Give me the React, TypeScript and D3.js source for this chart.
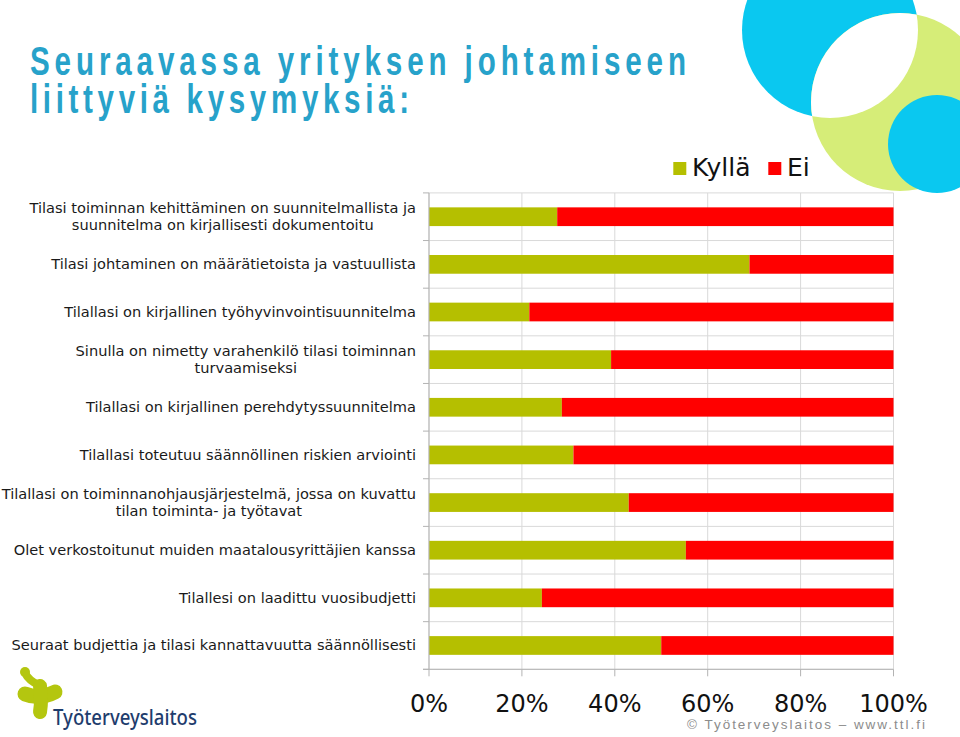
import React from "react";
import * as d3 from "d3";

const categories: string[][] = [
  ["Tilasi toiminnan kehittäminen on suunnitelmallista ja", "suunnitelma on kirjallisesti dokumentoitu"],
  ["Tilasi johtaminen on määrätietoista ja vastuullista"],
  ["Tilallasi on kirjallinen työhyvinvointisuunnitelma"],
  ["Sinulla on nimetty varahenkilö tilasi toiminnan", "turvaamiseksi"],
  ["Tilallasi on kirjallinen perehdytyssuunnitelma"],
  ["Tilallasi toteutuu säännöllinen riskien arviointi"],
  ["Tilallasi on toiminnanohjausjärjestelmä, jossa on kuvattu", "tilan toiminta- ja työtavat"],
  ["Olet verkostoitunut muiden maatalousyrittäjien kanssa"],
  ["Tilallesi on laadittu vuosibudjetti"],
  ["Seuraat budjettia ja tilasi kannattavuutta säännöllisesti"],
];
const kylla = [27.6, 69.0, 21.6, 39.2, 28.6, 31.1, 43.0, 55.3, 24.3, 50.0];
const ei = [72.4, 31.0, 78.4, 60.8, 71.4, 68.9, 57.0, 44.7, 75.7, 50.0];
const seriesNames = ["Kyllä", "Ei"];
const seriesColors = ["#b5bf00", "#ff0000"];
const xTicks = [0, 20, 40, 60, 80, 100];
const titleLines = ["Seuraavassa yrityksen johtamiseen", "liittyviä kysymyksiä:"];

const W = 960;
const H = 737;
const plot = { left: 429, right: 893.5, top: 192.9, bottom: 669.3 };
const labelFontSize = 14.6;
const labelFont = `${labelFontSize}px 'DejaVu Sans'`;

let ctx: CanvasRenderingContext2D | null = null;
function measure(t: string, font: string) {
  if (!ctx) ctx = document.createElement("canvas").getContext("2d");
  if (!ctx) return t.length * 8;
  ctx.font = font;
  return ctx.measureText(t).width;
}

export default function App() {
  const rows = categories.map((c, i) => ({ key: String(i), Kyllä: kylla[i], Ei: ei[i] }));
  const x = d3.scaleLinear().domain([0, 100]).range([plot.left, plot.right]);
  const y = d3
    .scaleBand<string>()
    .domain(rows.map((r) => r.key))
    .range([plot.top, plot.bottom])
    .paddingInner(0.607)
    .paddingOuter(0.3035);
  const stack = d3.stack<any>().keys(seriesNames)(rows);
  const step = y.step();
  const boundaries = d3.range(categories.length + 1).map((i) => plot.top + i * step);

  return (
    <svg width={W} height={H} style={{ position: "absolute", left: 0, top: 0, background: "#fff" }}>
      {/* decorative circles */}
      <defs>
        <clipPath id="clipBlue">
          <circle cx={830} cy={30} r={88} />
        </clipPath>
      </defs>
      <circle cx={830} cy={30} r={88} fill="#0ac8f0" />
      <circle cx={900} cy={102} r={89} fill="#d6ed78" />
      <circle cx={900} cy={102} r={89} fill="#ffffff" clipPath="url(#clipBlue)" />
      <circle cx={937} cy={144} r={49} fill="#0ac8f0" />

      {/* title */}
      {titleLines.map((t, i) => (
        <text
          key={i}
          transform={`translate(30,${75 + i * 38}) scale(0.74,1)`}
          fontFamily="'Liberation Sans', Arial, sans-serif"
          fontWeight="bold"
          fontSize={40}
          fill="#27a2ca"
          textLength={(i === 0 ? 656 : 379) / 0.74}
          lengthAdjust="spacing"
        >
          {t}
        </text>
      ))}

      {/* legend */}
      <g fontFamily="'DejaVu Sans', Verdana, sans-serif" fontSize={25} fill="#111">
        <rect x={673.3} y={162} width={13} height={13} fill={seriesColors[0]} />
        <text x={692} y={176}>{seriesNames[0]}</text>
        <rect x={768.3} y={162} width={13} height={13} fill={seriesColors[1]} />
        <text x={787} y={176}>{seriesNames[1]}</text>
      </g>

      {/* gridlines */}
      {xTicks.map((t) => (
        <line key={"vg" + t} x1={x(t)} x2={x(t)} y1={plot.top} y2={plot.bottom} stroke="#d9d9d9" strokeWidth={1} />
      ))}
      {boundaries.map((b, i) => (
        <line key={"hg" + i} x1={plot.left} x2={plot.right} y1={b} y2={b} stroke="#d9d9d9" strokeWidth={1} />
      ))}

      {/* bars */}
      {stack.map((s, si) =>
        s.map((d, i) => (
          <rect
            key={si + "-" + i}
            x={x(d[0])}
            width={x(d[1]) - x(d[0])}
            y={y(rows[i].key)}
            height={y.bandwidth()}
            fill={seriesColors[si]}
          />
        ))
      )}

      {/* axes */}
      <line x1={plot.left} x2={plot.left} y1={plot.top} y2={plot.bottom} stroke="#b3b3b3" />
      {boundaries.map((b, i) => (
        <line key={"lt" + i} x1={plot.left - 6} x2={plot.left} y1={b} y2={b} stroke="#b3b3b3" />
      ))}
      <line x1={plot.left - 6} x2={plot.right} y1={plot.bottom} y2={plot.bottom} stroke="#b3b3b3" />
      {xTicks.map((t) => (
        <line key={"bt" + t} x1={x(t)} x2={x(t)} y1={plot.bottom} y2={plot.bottom + 7} stroke="#b3b3b3" />
      ))}
      <g fontFamily="'DejaVu Sans', Verdana, sans-serif" fontSize={24} fill="#111" textAnchor="middle">
        {xTicks.map((t) => (
          <text key={"tl" + t} x={x(t)} y={712}>
            {t}%
          </text>
        ))}
      </g>

      {/* category labels */}
      <g fontFamily="'DejaVu Sans', Verdana, sans-serif" fontSize={labelFontSize} fill="#1a1a1a" textAnchor="middle">
        {categories.map((lines, i) => {
          const maxW = Math.max(...lines.map((l) => measure(l, labelFont)));
          const cx = 416 - maxW / 2;
          const cy = (y(rows[i].key) as number) + y.bandwidth() / 2 + 5;
          const lh = 17;
          return lines.map((l, j) => (
            <text key={i + "-" + j} x={cx} y={cy + (j - (lines.length - 1) / 2) * lh}>
              {l}
            </text>
          ));
        })}
      </g>

      {/* logo */}
      <g stroke="#b4c60f" strokeLinecap="round" strokeLinejoin="round" fill="none">
        <path d="M25,673 Q29,681 39,685" strokeWidth={8} />
        <path d="M25,694 Q40,700 55,692" strokeWidth={15} />
        <path d="M40,686 Q42,700 40,712" strokeWidth={14} />
      </g>
      <circle cx={25} cy={672} r={5} fill="#b4c60f" />
      <text
        x={53}
        y={725}
        fontFamily="'Noto Sans', sans-serif"
        fontWeight={500}
        fontSize={21}
        fill="#1f3d6d"
        textLength={144}
        lengthAdjust="spacingAndGlyphs"
      >
        Työterveyslaitos
      </text>

      {/* footer */}
      <text
        x={687}
        y={729}
        fontFamily="'Liberation Sans', Arial, sans-serif"
        fontSize={13.5}
        fill="#8c8c8c"
        textLength={238}
        lengthAdjust="spacing"
      >
        © Työterveyslaitos – www.ttl.fi
      </text>
    </svg>
  );
}
